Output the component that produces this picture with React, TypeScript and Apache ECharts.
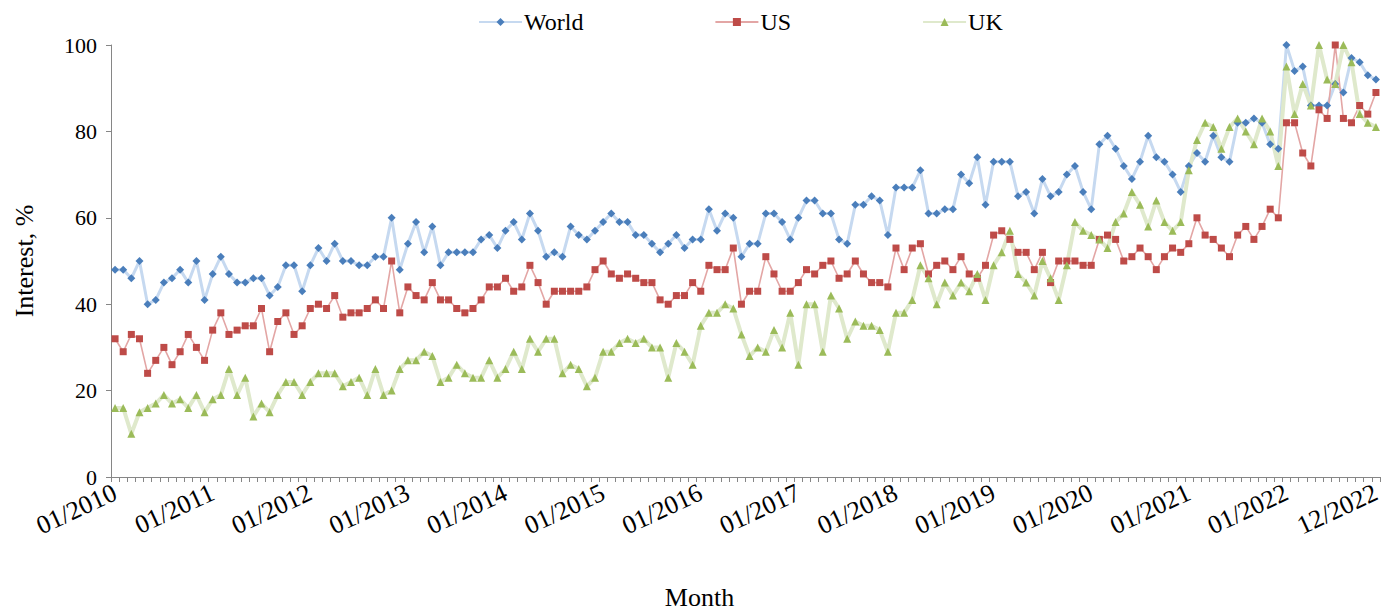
import React, { useEffect, useRef } from "react";
import * as echarts from "echarts";

const years = [2010, 2011, 2012, 2013, 2014, 2015, 2016, 2017, 2018, 2019, 2020, 2021, 2022];
const monthNames = ["01", "02", "03", "04", "05", "06", "07", "08", "09", "10", "11", "12"];
const categories: string[] = [];
years.forEach((y) => monthNames.forEach((m) => categories.push(`${m}/${y}`)));

const world = [
  48, 48, 46, 50, 40, 41, 45, 46, 48, 45, 50, 41, 47, 51, 47, 45, 45, 46, 46, 42, 44,
  49, 49, 43, 49, 53, 50, 54, 50, 50, 49, 49, 51, 51, 60, 48, 54, 59, 52, 58,
  49, 52, 52, 52, 52, 55, 56, 53, 57, 59, 55, 61, 57, 51, 52, 51, 58, 56, 55, 57,
  59, 61, 59, 59, 56, 56, 54, 52, 54, 56, 53, 55, 55, 62, 57, 61, 60, 51, 54, 54,
  61, 61, 59, 55, 60, 64, 64, 61, 61, 55, 54, 63, 63, 65, 64, 56, 67, 67, 67,
  71, 61, 61, 62, 62, 70, 68, 74, 63, 73, 73, 73, 65, 66, 61, 69, 65, 66, 70, 72,
  66, 62, 77, 79, 76, 72, 69, 73, 79, 74, 73, 70, 66, 72, 75, 73, 79, 74, 73,
  82, 82, 83, 82, 77, 76, 100, 94, 95, 86, 86, 86, 91, 89, 97, 96, 93, 92,
];

const us = [
  32, 29, 33, 32, 24, 27, 30, 26, 29, 33, 30, 27, 34, 38, 33, 34, 35, 35, 39, 29, 36,
  38, 33, 35, 39, 40, 39, 42, 37, 38, 38, 39, 41, 39, 50, 38, 44, 42, 41, 45,
  41, 41, 39, 38, 39, 41, 44, 44, 46, 43, 44, 49, 45, 40, 43, 43, 43, 43, 44, 48,
  50, 47, 46, 47, 46, 45, 45, 41, 40, 42, 42, 45, 43, 49, 48, 48, 53, 40, 43, 43,
  51, 47, 43, 43, 45, 48, 47, 49, 50, 46, 47, 50, 47, 45, 45, 44, 53, 48, 53,
  54, 47, 49, 50, 48, 51, 47, 46, 49, 56, 57, 55, 52, 52, 48, 52, 45, 50, 50, 50,
  49, 49, 55, 56, 55, 50, 51, 53, 51, 48, 51, 53, 52, 54, 60, 56, 55, 53, 51,
  56, 58, 55, 58, 62, 60, 82, 82, 75, 72, 85, 83, 100, 83, 82, 86, 84, 89,
];

const uk = [
  16, 16, 10, 15, 16, 17, 19, 17, 18, 16, 19, 15, 18, 19, 25, 19, 23, 14, 17, 15, 19,
  22, 22, 19, 22, 24, 24, 24, 21, 22, 23, 19, 25, 19, 20, 25, 27, 27, 29, 28,
  22, 23, 26, 24, 23, 23, 27, 23, 25, 29, 25, 32, 29, 32, 32, 24, 26, 25, 21, 23,
  29, 29, 31, 32, 31, 32, 30, 30, 23, 31, 29, 26, 35, 38, 38, 40, 39, 33, 28, 30,
  29, 34, 30, 38, 26, 40, 40, 29, 42, 39, 32, 36, 35, 35, 34, 29, 38, 38, 41,
  49, 46, 40, 45, 42, 45, 43, 47, 41, 49, 52, 57, 47, 45, 42, 50, 46, 41, 49, 59,
  57, 56, 55, 53, 59, 61, 66, 63, 58, 64, 59, 57, 59, 71, 78, 82, 81, 76, 81,
  83, 80, 77, 83, 80, 72, 95, 84, 91, 86, 100, 92, 91, 100, 96, 84, 82, 81,
];

const FONT = "'Liberation Serif', 'Times New Roman', serif";

export default function App() {
  const ref = useRef<HTMLDivElement>(null);
  useEffect(() => {
    if (!ref.current) return;
    const chart = echarts.init(ref.current, undefined, { renderer: "svg" });
    const last = categories.length - 1;
    chart.setOption({
      animation: false,
      backgroundColor: "#ffffff",
      textStyle: { fontFamily: FONT, color: "#000" },
      legend: {
        top: 10,
        left: 478,
        padding: 0,
        itemGap: 131,
        itemWidth: 43,
        itemHeight: 10,
        textStyle: { fontFamily: FONT, fontSize: 24, color: "#000", padding: [0, 0, 0, -3] },
        data: ["World", "US", "UK"],
      },
      grid: {
        left: 111,
        right: 7,
        top: 45,
        bottom: 138,
        containLabel: false,
        outerBoundsMode: "none",
      },
      xAxis: {
        type: "category",
        data: categories,
        boundaryGap: true,
        name: "Month",
        nameLocation: "middle",
        nameGap: 107,
        nameTextStyle: { fontFamily: FONT, fontSize: 26, color: "#000", padding: [0, 92, 0, 0] },
        axisLine: { lineStyle: { color: "#868686", width: 1 } },
        axisTick: { show: true, interval: 0, length: 5, lineStyle: { color: "#868686" } },
        axisLabel: {
          interval: (index: number) => index % 12 === 0 || index === last,
          rotate: 25,
          margin: 14,
          fontFamily: FONT,
          fontSize: 26,
          color: "#000",
        },
        splitLine: { show: false },
      },
      yAxis: {
        type: "value",
        min: 0,
        max: 100,
        interval: 20,
        name: "Interest, %",
        nameLocation: "middle",
        nameGap: 74,
        nameTextStyle: { fontFamily: FONT, fontSize: 26, color: "#000" },
        axisLine: { show: true, lineStyle: { color: "#868686", width: 1 } },
        axisTick: { show: true, length: 5, lineStyle: { color: "#868686" } },
        axisLabel: { fontFamily: FONT, fontSize: 22, color: "#000", margin: 14 },
        splitLine: { show: false },
      },
      series: [
        {
          name: "World",
          type: "line",
          data: world,
          symbol: "diamond",
          symbolSize: 8,
          showAllSymbol: true,
          itemStyle: { color: "#4a7ebb" },
          lineStyle: { color: "#c6d9f0", width: 3 },
        },
        {
          name: "US",
          type: "line",
          data: us,
          symbol: "rect",
          symbolSize: 7,
          showAllSymbol: true,
          itemStyle: { color: "#be4b48" },
          lineStyle: { color: "#e3a6a5", width: 1.6 },
        },
        {
          name: "UK",
          type: "line",
          data: uk,
          symbol: "triangle",
          symbolSize: 8,
          showAllSymbol: true,
          itemStyle: { color: "#9bbb59" },
          lineStyle: { color: "#dfe9cc", width: 4 },
        },
      ],
    });
    return () => chart.dispose();
  }, []);
  return (
    <div
      ref={ref}
      style={{ position: "fixed", left: 0, top: 0, width: 1387, height: 615, background: "#fff" }}
    />
  );
}
